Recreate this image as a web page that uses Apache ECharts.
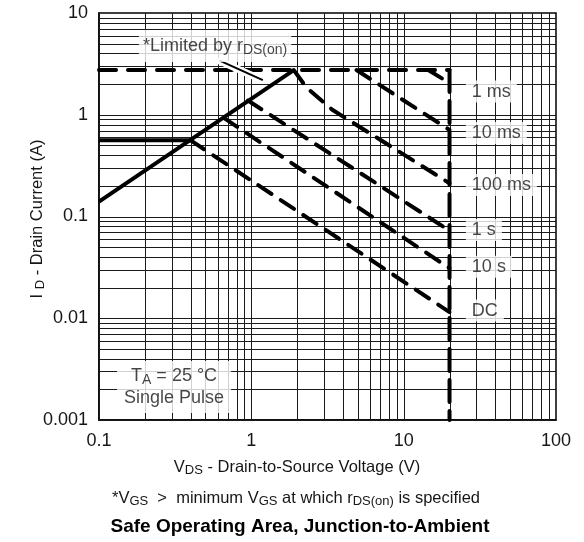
<!DOCTYPE html>
<html><head><meta charset="utf-8">
<script src="https://cdn.jsdelivr.net/npm/echarts@6/dist/echarts.min.js"></script>
<style>html,body{margin:0;padding:0;background:#fff}#c{width:584px;height:542px}</style>
</head><body><div id="c"></div>
<script>
// ---- axis ticks ----
const xTickValues = [0.1, 1, 10, 100];
const xTickLabels = ['0.1', '1', '10', '100'];
const yTickValues = [0.001, 0.01, 0.1, 1, 10];
const yTickLabels = ['0.001', '0.01', '0.1', '1', '10'];
const gridMultipliers = [1, 2, 3, 4, 5, 6, 7, 8, 9];

// ---- SOA boundary curves (VDS in V, ID in A) ----
const rdsX = [0.1, 1.9];            const rdsY = [0.14, 2.75];     // limited by rDS(on)
const idFlatX = [0.1, 0.4];         const idFlatY = [0.56, 0.56];  // DC current limit
const idmX = [0.1, 20];             const idmY = [2.75, 2.75];     // pulsed current limit
const bvX = [20, 20];               const bvY = [2.75, 0.001];     // breakdown voltage limit
const ms1X = [14.5, 20];            const ms1Y = [2.75, 2.05];
const ms10X = [4.9, 20];            const ms10Y = [2.75, 0.71];
const ms100X = [1.9, 2.3, 3.4, 20]; const ms100Y = [2.75, 1.85, 1.12, 0.212];
const s1X = [0.95, 20];             const s1Y = [1.38, 0.0725];
const s10X = [0.66, 20];            const s10Y = [0.93, 0.031];
const dcX = [0.4, 20];              const dcY = [0.56, 0.0115];

// ---- curve labels ----
const curveLabels = ['1 ms', '10 ms', '100 ms', '1 s', '10 s', 'DC'];
const curveLabelY = [1.69, 0.66, 0.204, 0.0736, 0.0321, 0.0119];
const curveLabelX = 25.6;

const FONT = 'Liberation Sans';
const TXT = '#161616';

function pairs(xs, ys) { return xs.map((x, i) => [x, ys[i]]); }
function tickLabel(v, vals, labs) {
  for (let i = 0; i < vals.length; i++) {
    if (Math.abs(Math.log10(v) - Math.log10(vals[i])) < 1e-6) return labs[i];
  }
  return '';
}
// grid line list: [x, y, kind] kind 0 = vertical at x, 1 = horizontal at y
const gridLines = [];
for (let e = -1; e <= 1; e++) gridMultipliers.forEach(m => gridLines.push([m * Math.pow(10, e), 1, 0]));
for (let e = -3; e <= 0; e++) gridMultipliers.forEach(m => gridLines.push([1, m * Math.pow(10, e), 1]));

function curve(name, xs, ys, dashed, dash) {
  return {
    type: 'line', name, data: pairs(xs, ys), symbol: 'none', silent: true, z: 3,
    animation: false, clip: false,
    lineStyle: { color: '#000', width: 4, type: dashed ? (dash || [16, 11]) : 'solid',
      cap: dashed ? 'round' : 'butt', join: 'round' }
  };
}

const richLbl = {
  n: { fontSize: 18, fontFamily: FONT, color: TXT, lineHeight: 22 },
  s: { fontSize: 14, fontFamily: FONT, color: TXT, lineHeight: 15, verticalAlign: 'bottom' }
};
const richG = (fs, ss) => ({
  n: { fontSize: fs, fontFamily: FONT, fill: TXT, lineHeight: 20 },
  s: { fontSize: ss, fontFamily: FONT, fill: TXT, lineHeight: 13, verticalAlign: 'bottom' }
});

const chart = echarts.init(document.getElementById('c'), null, { renderer: 'canvas' });
const option = {
  animation: false,
  backgroundColor: '#fff',
  grid: { left: 99, top: 13, width: 457, height: 407, show: true, borderColor: '#000', borderWidth: 1.5, backgroundColor: 'transparent' },
  xAxis: {
    type: 'log', logBase: 10, min: 0.1, max: 100,
    axisLine: { show: true, lineStyle: { color: '#000', width: 1.5 } },
    axisTick: { show: false }, splitLine: { show: false },
    axisLabel: { fontSize: 18, fontFamily: FONT, color: TXT, margin: 12,
      formatter: v => tickLabel(v, xTickValues, xTickLabels) }
  },
  yAxis: {
    type: 'log', logBase: 10, min: 0.001, max: 10,
    axisLine: { show: true, lineStyle: { color: '#000', width: 1.5 } },
    axisTick: { show: false }, splitLine: { show: false },
    axisLabel: { fontSize: 18, fontFamily: FONT, color: TXT, margin: 11,
      formatter: v => tickLabel(v, yTickValues, yTickLabels) }
  },
  series: [
    {
      type: 'custom', name: 'grid', data: gridLines, silent: true, z: 1,
      encode: { x: 0, y: 1 }, clip: false,
      renderItem: function (params, api) {
        const cs = params.coordSys;
        const kind = api.value(2);
        const p = api.coord([api.value(0), api.value(1)]);
        let shape;
        if (kind === 0) {
          const x = Math.round(p[0]) + 0.5;
          shape = { x1: x, y1: cs.y, x2: x, y2: cs.y + cs.height };
        } else {
          const y = Math.round(p[1]) + 0.5;
          shape = { x1: cs.x, y1: y, x2: cs.x + cs.width, y2: y };
        }
        return { type: 'line', shape, style: { stroke: '#1a1a1a', lineWidth: 1 } };
      }
    },
    curve('rds', rdsX, rdsY, false),
    curve('idFlat', idFlatX, idFlatY, false),
    curve('idm', idmX, idmY, true, [17, 12]),
    curve('bv', bvX, bvY, true, [22, 9]),
    curve('1 ms', ms1X, ms1Y, true),
    curve('10 ms', ms10X, ms10Y, true),
    curve('100 ms', ms100X, ms100Y, true),
    curve('1 s', s1X, s1Y, true),
    curve('10 s', s10X, s10Y, true),
    curve('DC', dcX, dcY, true),
    {
      type: 'line', name: 'arrowHalo', data: [], silent: true, z: 4, symbol: 'none',
      markLine: {
        silent: true, symbol: ['none', 'none'], animation: false, label: { show: false },
        lineStyle: { color: '#fff', width: 7, type: 'solid' },
        data: [[{ coord: [0.6, 3.45] }, { coord: [1.2, 2.17] }]]
      }
    },
    {
      type: 'line', name: 'arrow', data: [], silent: true, z: 5, symbol: 'none',
      markLine: {
        silent: true, symbol: ['none', 'triangle'], symbolSize: [0, 9], animation: false, label: { show: false },
        lineStyle: { color: '#000', width: 2, type: 'solid' },
        itemStyle: { color: '#000' },
        data: [[{ coord: [0.62, 3.4] }, { coord: [1.19, 2.19] }]]
      }
    },
    {
      type: 'scatter', name: 'labels', silent: true, z: 6, symbolSize: 0,
      data: curveLabels.map((t, i) => ({
        value: [curveLabelX, curveLabelY[i]],
        label: { show: true, position: 'right', distance: 0, formatter: '{n|' + t + '}',
          backgroundColor: '#fff', padding: [0, 6, 0, 6], rich: richLbl }
      })).concat([
        { value: [0.578, 4.74],
          label: { show: true, position: 'inside', formatter: '{n|*Limited by r}{s|DS(on)}',
            backgroundColor: '#fff', padding: [5, 4, 5, 4], rich: richLbl } },
        { value: [0.311, 0.00211],
          label: { show: true, position: 'inside', align: 'center',
            formatter: '{n|T}{s|A}{n| = 25 °C}\n{n|Single Pulse}',
            backgroundColor: '#fff', padding: [4, 7, 4, 7], rich: richLbl } }
      ])
    }
  ],
  graphic: [
    { type: 'text', x: 37, y: 219, rotation: Math.PI / 2, z: 10,
      style: { text: '{n|I }{s|D}{n| - Drain Current (A)}', align: 'center', verticalAlign: 'middle',
        rich: richG(16.5, 13) } },
    { type: 'text', x: 297, y: 467, z: 10,
      style: { text: '{n|V}{s|DS}{n| - Drain-to-Source Voltage (V)}', align: 'center', verticalAlign: 'middle',
        rich: richG(16.5, 13) } },
    { type: 'text', x: 296, y: 498, z: 10,
      style: { text: '{n|*V}{s|GS}{n|  >  minimum V}{s|GS}{n| at which r}{s|DS(on)}{n| is specified}', align: 'center', verticalAlign: 'middle',
        rich: richG(16.5, 13) } },
    { type: 'text', x: 300, y: 527, z: 10,
      style: { text: 'Safe Operating Area, Junction-to-Ambient', align: 'center', verticalAlign: 'middle',
        fontSize: 19, fontWeight: 'bold', fontFamily: FONT, fill: '#000' } }
  ]
};
chart.setOption(option);
</script>
</body></html>
